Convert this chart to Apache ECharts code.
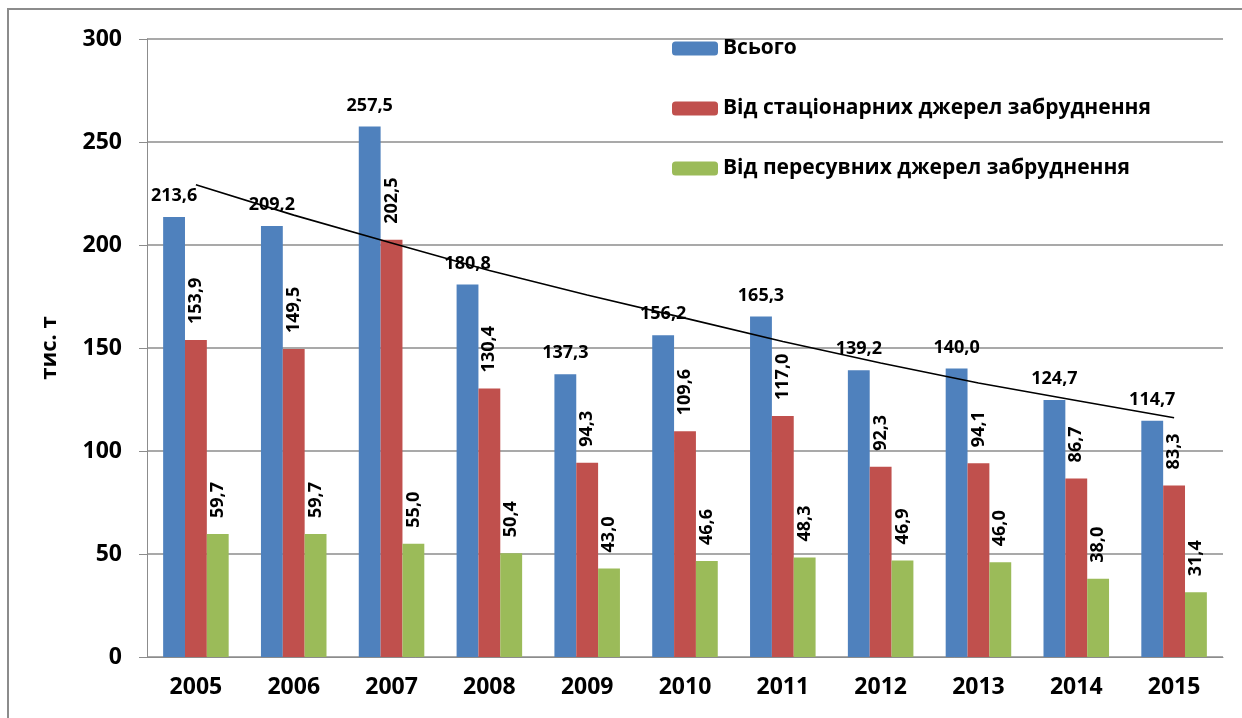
<!DOCTYPE html>
<html>
<head>
<meta charset="utf-8">
<script src="https://cdn.jsdelivr.net/npm/echarts@6/dist/echarts.min.js"></script>
<style>
  html, body { margin:0; padding:0; background:#fff; }
  #chart { width:1242px; height:718px; }
</style>
</head>
<body>
<div id="chart"></div>
<script>
var years = ['2005','2006','2007','2008','2009','2010','2011','2012','2013','2014','2015'];
var seriesNames = ['Всього', 'Від стаціонарних джерел забруднення', 'Від пересувних джерел забруднення'];
var totalVals = [213.6, 209.2, 257.5, 180.8, 137.3, 156.2, 165.3, 139.2, 140.0, 124.7, 114.7];
var stationaryVals = [153.9, 149.5, 202.5, 130.4, 94.3, 109.6, 117.0, 92.3, 94.1, 86.7, 83.3];
var mobileVals = [59.7, 59.7, 55.0, 50.4, 43.0, 46.6, 48.3, 46.9, 46.0, 38.0, 31.4];
// trend line (at each year)
var trendVals = [229.3, 214.5, 201.0, 187.6, 175.7, 164.5, 153.2, 142.7, 133.0, 124.5, 116.1];
var yTicks = [0, 50, 100, 150, 200, 250, 300];

(function(){
  var c = echarts.init(document.getElementById('chart'));
  var font = '"Open Sans", "Noto Sans", sans-serif';
  var gridCol = '#8c8c8c';
  var colors = ['#4f81bd', '#c0504d', '#9bbb59'];

  function fmt(p) { return p.value.toFixed(1).replace('.', ','); }

  var labelTop = { show:true, position:'top', distance:12, formatter:fmt,
    color:'#000', fontFamily:font, fontWeight:'bold', fontSize:18 };
  var labelRot = { show:true, position:'top', distance:16, rotate:90, align:'left', verticalAlign:'middle',
    formatter:fmt, color:'#000', fontFamily:font, fontWeight:'bold', fontSize:18 };

  c.setOption({
    animation:false,
    color:colors,
    grid:{ left:147, right:19, top:39, bottom:61, containLabel:false },
    legend:{
      orient:'vertical', left:672, top:38, padding:0,
      itemWidth:46, itemHeight:14, itemGap:39,
      data:seriesNames,
      textStyle:{ fontFamily:font, fontWeight:'bold', fontSize:21, color:'#000', lineHeight:21, padding:[0,0,0,0] }
    },
    xAxis:{
      type:'category', data:years,
      axisLine:{ lineStyle:{ color:gridCol } },
      axisTick:{ length:7, lineStyle:{ color:gridCol } },
      axisLabel:{ color:'#000', fontFamily:font, fontWeight:'bold', fontSize:23, margin:19 }
    },
    yAxis:{
      type:'value', min:yTicks[0], max:yTicks[yTicks.length-1], interval:50,
      name:'тис. т', nameLocation:'middle', nameGap:86, nameRotate:90,
      nameTextStyle:{ color:'#000', fontFamily:font, fontWeight:'bold', fontSize:22 },
      axisLine:{ show:true, lineStyle:{ color:gridCol } },
      axisTick:{ show:true, length:8, lineStyle:{ color:gridCol } },
      axisLabel:{ color:'#000', fontFamily:font, fontWeight:'bold', fontSize:23, margin:25 },
      splitLine:{ lineStyle:{ color:gridCol, width:1.5 } }
    },
    series:[
      { name:seriesNames[0], type:'bar', data:totalVals, barGap:'0%', barCategoryGap:'33%', label:labelTop },
      { name:seriesNames[1], type:'bar', data:stationaryVals, label:labelRot },
      { name:seriesNames[2], type:'bar', data:mobileVals, label:labelRot },
      { name:'trend', type:'line', data:trendVals, showSymbol:false, symbol:'none', silent:true, z:5,
        lineStyle:{ color:'#000', width:1.6 } }
    ],
    graphic:[{ type:'rect', shape:{ x:8, y:9, width:1300, height:800 },
      style:{ fill:'none', stroke:'#8c8c8c', lineWidth:2 }, silent:true }]
  });
})();
</script>
</body>
</html>
